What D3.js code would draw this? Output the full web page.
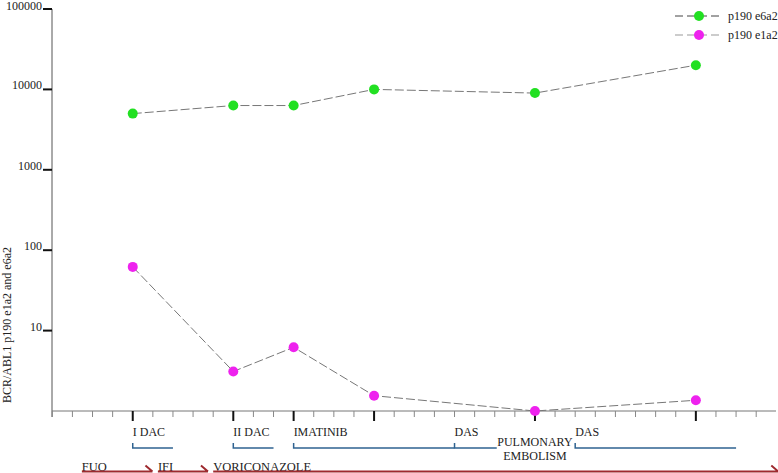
<!DOCTYPE html>
<html>
<head>
<meta charset="utf-8">
<script src="https://cdn.jsdelivr.net/npm/d3@7"></script>
<style>
  body { margin: 0; background: #fff; }
</style>
</head>
<body>
<div id="chart"></div>
<script>
// sample times (on the x tick grid) and transcript levels
var sample_pos = [4, 9, 12, 16, 24, 32]
var e6a2_values = [5000, 6300, 6300, 10000, 9000, 20000]
var e1a2_values = [62, 3.1, 6.2, 1.55, 1, 1.36]
var y_ticks = [10, 100, 1000, 10000, 100000]
var series_names = ["p190 e6a2", "p190 e1a2"]
var series_colors = ["#22e022", "#ee22ee"]

// therapy labels under the axis
var phase_labels = ["I DAC", "II DAC", "IMATINIB", "DAS", "DAS"]
var phase_pos = [4, 9, 12, 20, 26]
var bracket_start = [4, 9, 12, 20, 26]
var bracket_end = [6, 11, 20, 22.1, 34]
var event_label = ["PULMONARY", "EMBOLISM"]
var event_pos = 24

// antifungal treatment arrows
var drug_labels = ["FUO", "IFI", "VORICONAZOLE"]
var drug_start = [1.47, 5.25, 8.0]
var drug_end = [4.98, 7.74, 36.1]

var width = 778, height = 473
var serif = "'Liberation Serif', 'Times New Roman', Times, 'DejaVu Serif', serif"

var svg = d3.select("#chart").append("svg")
    .attr("width", width)
    .attr("height", height)
    .attr("font-family", serif)
    .style("font-family", serif)

var x = d3.scaleLinear().domain([0, 36]).range([52.3, 776.3])
var y = d3.scaleLog().domain([1, 100000]).range([411, 9])

// y axis
svg.append("line")
    .attr("x1", 52).attr("x2", 52)
    .attr("y1", y(100000)).attr("y2", 417)
    .attr("stroke", "#555").attr("stroke-width", 1)

var y_tick = svg.append("g").selectAll("g")
    .data(y_ticks)
    .enter().append("g")
    .attr("transform", function (d) { return "translate(0," + y(d) + ")" })
y_tick.append("line")
    .attr("x1", 43).attr("x2", 52)
    .attr("stroke", "#111").attr("stroke-width", 2)
y_tick.append("text")
    .attr("x", 42).attr("y", function (d) { return d == 100000 ? 1 : 0 })
    .attr("text-anchor", "end")
    .attr("fill", "#222")
    .style("font-size", "12px")
    .text(function (d) { return d })

svg.append("text")
    .attr("transform", "translate(11,403) rotate(-90)")
    .attr("fill", "#222")
    .style("font-size", "12px")
    .text("BCR/ABL1 p190 e1a2 and e6a2")

// x axis
svg.append("line")
    .attr("x1", 52).attr("x2", 776)
    .attr("y1", 411).attr("y2", 411)
    .attr("stroke", "#777").attr("stroke-width", 1)

svg.append("g").selectAll("line")
    .data(d3.range(0, 36))
    .enter().append("line")
    .attr("x1", function (d) { return x(d) })
    .attr("x2", function (d) { return x(d) })
    .attr("y1", 411)
    .attr("y2", function (d) { return sample_pos.indexOf(d) >= 0 ? 421 : 417 })
    .attr("stroke", function (d) { return sample_pos.indexOf(d) >= 0 ? "#111" : "#888" })
    .attr("stroke-width", function (d) { return sample_pos.indexOf(d) >= 0 ? 2 : 1 })

// series lines and markers
var all_series = [e6a2_values, e1a2_values]
var line = d3.line()
    .x(function (d, i) { return x(sample_pos[i]) })
    .y(function (d) { return y(d) })

all_series.forEach(function (values, s) {
    svg.append("path")
        .datum(values)
        .attr("d", line)
        .attr("fill", "none")
        .attr("stroke", "#777")
        .attr("stroke-width", 1)
        .attr("stroke-dasharray", "9,3")
    svg.append("g").selectAll("circle")
        .data(values)
        .enter().append("circle")
        .attr("cx", function (d, i) { return x(sample_pos[i]) })
        .attr("cy", function (d) { return y(d) })
        .attr("r", 5)
        .attr("fill", series_colors[s])
})

// legend
var legend = svg.append("g").selectAll("g")
    .data(series_names)
    .enter().append("g")
    .attr("transform", function (d, i) { return "translate(0," + (16 + i * 19) + ")" })
legend.append("line")
    .attr("x1", 675).attr("x2", 722)
    .attr("stroke", function (d, i) { return i == 0 ? "#444" : "#999" })
    .attr("stroke-width", 1)
    .attr("stroke-dasharray", "8,4")
legend.append("circle")
    .attr("cx", 699).attr("r", 5)
    .attr("fill", function (d, i) { return series_colors[i] })
legend.append("text")
    .attr("x", 728).attr("y", 4)
    .attr("fill", "#222")
    .style("font-size", "12px")
    .text(function (d) { return d })

// therapy labels and brackets
svg.append("g").selectAll("text")
    .data(phase_labels)
    .enter().append("text")
    .attr("x", function (d, i) { return x(phase_pos[i]) })
    .attr("y", 436)
    .attr("fill", "#222")
    .style("font-size", "12px")
    .text(function (d) { return d })

svg.append("g").selectAll("path")
    .data(bracket_start)
    .enter().append("path")
    .attr("d", function (d, i) {
        return "M" + x(d) + ",443V448H" + x(bracket_end[i])
    })
    .attr("fill", "none")
    .attr("stroke", "#2f6391")
    .attr("stroke-width", 1.5)

svg.append("g").selectAll("text")
    .data(event_label)
    .enter().append("text")
    .attr("x", x(event_pos))
    .attr("y", function (d, i) { return 446 + i * 14 })
    .attr("text-anchor", "middle")
    .attr("fill", "#222")
    .style("font-size", "12px")
    .text(function (d) { return d })

// drug arrows
svg.append("g").selectAll("text")
    .data(drug_labels)
    .enter().append("text")
    .attr("x", function (d, i) { return x(drug_start[i]) })
    .attr("y", 471)
    .attr("fill", "#222")
    .style("font-size", "12.5px")
    .text(function (d) { return d })

svg.append("g").selectAll("path")
    .data(drug_start)
    .enter().append("path")
    .attr("d", function (d, i) {
        var x0 = x(d), x1 = x(drug_end[i])
        return "M" + x0 + ",471.5H" + x1 + "M" + (x1 - 7) + ",465.5L" + x1 + ",471.5"
    })
    .attr("fill", "none")
    .attr("stroke", "#9e2a2f")
    .attr("stroke-width", 2)
</script>
</body>
</html>
